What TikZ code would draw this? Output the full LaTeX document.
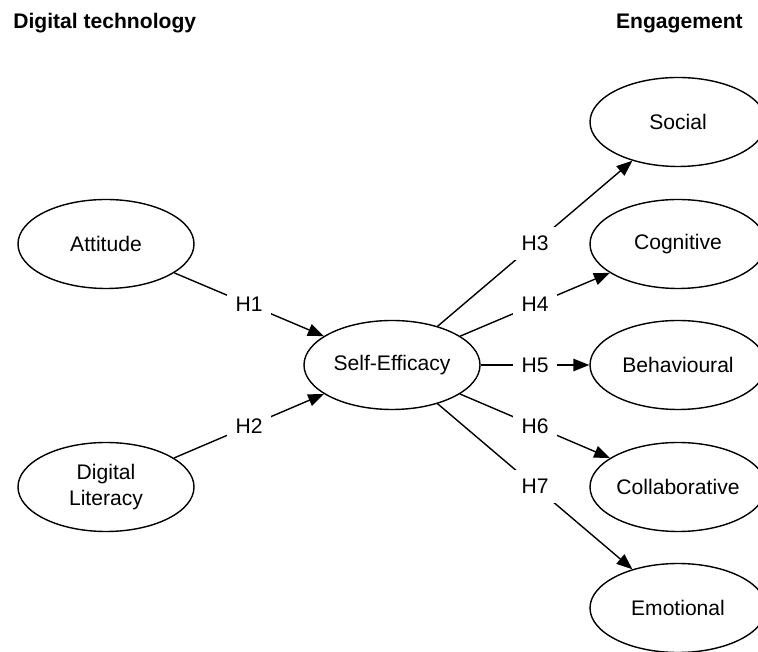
\documentclass[tikz,border=0pt]{standalone}
\usepackage{fontspec}
\setmainfont{Liberation Sans}
\usepackage{tikz}
\usetikzlibrary{shapes.geometric,arrows.meta}
\tikzstyle{arrow} = [line width=0.8pt,-{Triangle[length=9pt,width=7pt]}]
\tikzstyle{construct} = [draw,ellipse,line width=0.8pt,minimum width=3.52cm,minimum height=1.78cm,inner sep=0pt,align=center,font=\fontsize{12}{14.4}\selectfont]
\tikzstyle{hyp} = [fill=white,inner sep=5pt,font=\fontsize{12}{14.4}\selectfont]
\tikzstyle{heading} = [inner sep=0pt,font=\fontsize{12}{14.4}\selectfont\bfseries]

\begin{document}
\begin{tikzpicture}
			\useasboundingbox (0, 0) rectangle (15.16, 13.02);
			\node [heading, anchor=base west] (techhead) at (0.26, 12.44) {Digital technology};
			\node [heading, anchor=base east] (enghead) at (14.86, 12.44) {Engagement};
			% antecedents
			\node [construct] (attitude) at (2.12, 8.14) {Attitude};
			\node [construct] (literacy) at (2.12, 3.28) {Digital\\Literacy};
			\node [construct] (efficacy) at (7.84, 5.72) {Self-Efficacy};
			% engagement
			\node [construct] (social) at (13.56, 10.58) {Social};
			\node [construct] (cognitive) at (13.56, 8.14) {Cognitive};
			\node [construct] (behavioural) at (13.56, 5.72) {Behavioural};
			\node [construct] (collab) at (13.56, 3.28) {Collaborative};
			\node [construct] (emotional) at (13.56, 0.86) {Emotional};
			\draw[arrow] (attitude) -- node[hyp] {H1} (efficacy);
			\draw[arrow] (literacy) -- node[hyp] {H2} (efficacy);
			\draw[arrow] (efficacy) -- node[hyp] {H3} (social);
			\draw[arrow] (efficacy) -- node[hyp] {H4} (cognitive);
			\draw[arrow] (efficacy) -- node[hyp] {H5} (behavioural);
			\draw[arrow] (efficacy) -- node[hyp] {H6} (collab);
			\draw[arrow] (efficacy) -- node[hyp] {H7} (emotional);
		\end{tikzpicture}
\end{document}
